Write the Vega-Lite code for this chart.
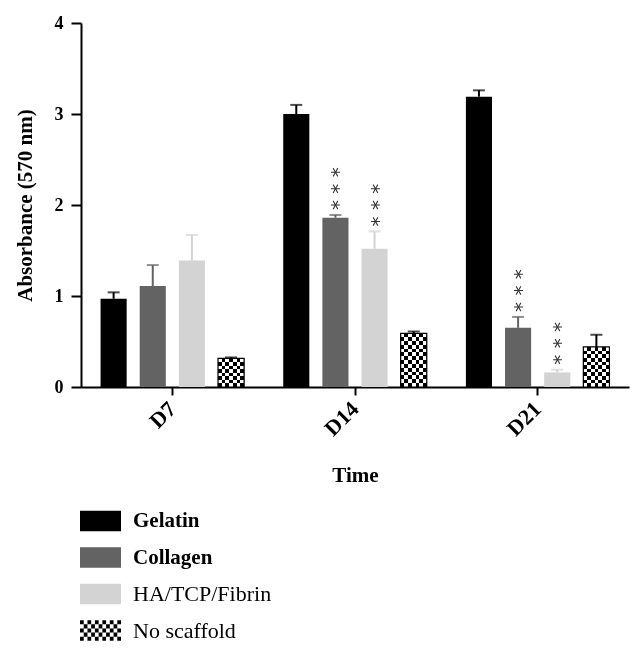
{
  "$schema": "https://vega.github.io/schema/vega-lite/v6.json",
  "width": 548,
  "height": 364,
  "autosize": {"type": "none"},
  "padding": {"left": 81, "top": 23, "right": 15, "bottom": 268},
  "background": "white",
  "data": {
    "values": [
      {"Time": "D7", "Group": "Gelatin", "value": 0.97, "upper": 1.04, "sig": null},
      {"Time": "D7", "Group": "Collagen", "value": 1.11, "upper": 1.34, "sig": null},
      {"Time": "D7", "Group": "HA/TCP/Fibrin", "value": 1.39, "upper": 1.67, "sig": null},
      {"Time": "D7", "Group": "No scaffold", "value": 0.315, "upper": 0.325, "sig": null},
      {"Time": "D14", "Group": "Gelatin", "value": 3.0, "upper": 3.1, "sig": null},
      {"Time": "D14", "Group": "Collagen", "value": 1.86, "upper": 1.89, "sig": "* * *"},
      {"Time": "D14", "Group": "HA/TCP/Fibrin", "value": 1.52, "upper": 1.71, "sig": "* * *"},
      {"Time": "D14", "Group": "No scaffold", "value": 0.59, "upper": 0.61, "sig": null},
      {"Time": "D21", "Group": "Gelatin", "value": 3.19, "upper": 3.26, "sig": null},
      {"Time": "D21", "Group": "Collagen", "value": 0.65, "upper": 0.77, "sig": "* * *"},
      {"Time": "D21", "Group": "HA/TCP/Fibrin", "value": 0.16, "upper": 0.19, "sig": "* * *"},
      {"Time": "D21", "Group": "No scaffold", "value": 0.44, "upper": 0.575, "sig": null}
    ]
  },
  "encoding": {
    "x": {
      "field": "Time",
      "type": "nominal",
      "scale": {"domain": ["D7", "D14", "D21"], "paddingInner": 0, "paddingOuter": 0},
      "title": "Time",
      "axis": {"labelAngle": -45, "labelFontSize": 22, "labelAlign": "right", "labelBaseline": "middle", "tickSize": 8, "labelPadding": 10, "titlePadding": 25}
    },
    "xOffset": {
      "field": "Group",
      "type": "nominal",
      "scale": {"domain": ["Gelatin", "Collagen", "HA/TCP/Fibrin", "No scaffold"], "paddingInner": 0.3333, "paddingOuter": 0.5}
    }
  },
  "layer": [
    {
      "mark": {"type": "bar"},
      "encoding": {
        "y": {
          "field": "value",
          "type": "quantitative",
          "scale": {"domain": [0, 4], "nice": false},
          "title": "Absorbance (570 nm)",
          "axis": {"values": [0, 1, 2, 3, 4], "format": "d", "tickSize": 10, "labelPadding": 8, "titlePadding": 19}
        },
        "color": {
          "field": "Group",
          "type": "nominal",
          "scale": {"domain": ["Gelatin", "Collagen", "HA/TCP/Fibrin", "No scaffold"], "range": ["#000000", "#636363", "#d3d3d3", "#000000"]},
          "legend": {
            "orient": "none",
            "legendX": -1,
            "legendY": 482,
            "title": null,
            "padding": 0,
            "symbolType": "M-1,-0.5H1V0.5H-1Z",
            "symbolSize": 1681,
            "symbolStrokeWidth": 0,
            "symbolOpacity": 1,
            "clipHeight": 32,
            "rowPadding": 4.5,
            "labelFont": "Liberation Serif",
            "labelFontSize": 21,
            "labelColor": "#000000",
            "labelOffset": 12,
            "labelLimit": 300,
            "encode": {
              "labels": {"update": {
                "fontWeight": {"signal": "datum.value === 'Gelatin' || datum.value === 'Collagen' ? 'bold' : 'normal'"},
                "fontSize": {"signal": "datum.value === 'Gelatin' || datum.value === 'Collagen' ? 21 : 22"}
              }},
              "symbols": {"update": {"shape": {"signal": "datum.value === 'No scaffold' ? 'M-1,-0.5h0.1818v0.2h-0.1818zM-0.6364,-0.5h0.1818v0.2h-0.1818zM-0.2727,-0.5h0.1818v0.2h-0.1818zM0.0909,-0.5h0.1818v0.2h-0.1818zM0.4545,-0.5h0.1818v0.2h-0.1818zM0.8182,-0.5h0.1818v0.2h-0.1818zM-0.8182,-0.3h0.1818v0.2h-0.1818zM-0.4545,-0.3h0.1818v0.2h-0.1818zM-0.0909,-0.3h0.1818v0.2h-0.1818zM0.2727,-0.3h0.1818v0.2h-0.1818zM0.6364,-0.3h0.1818v0.2h-0.1818zM-1,-0.1h0.1818v0.2h-0.1818zM-0.6364,-0.1h0.1818v0.2h-0.1818zM-0.2727,-0.1h0.1818v0.2h-0.1818zM0.0909,-0.1h0.1818v0.2h-0.1818zM0.4545,-0.1h0.1818v0.2h-0.1818zM0.8182,-0.1h0.1818v0.2h-0.1818zM-0.8182,0.1h0.1818v0.2h-0.1818zM-0.4545,0.1h0.1818v0.2h-0.1818zM-0.0909,0.1h0.1818v0.2h-0.1818zM0.2727,0.1h0.1818v0.2h-0.1818zM0.6364,0.1h0.1818v0.2h-0.1818zM-1,0.3h0.1818v0.2h-0.1818zM-0.6364,0.3h0.1818v0.2h-0.1818zM-0.2727,0.3h0.1818v0.2h-0.1818zM0.0909,0.3h0.1818v0.2h-0.1818zM0.4545,0.3h0.1818v0.2h-0.1818zM0.8182,0.3h0.1818v0.2h-0.1818z' : 'M-1,-0.5H1V0.5H-1Z'"}}}
            }
          }
        }
      }
    },
    {
      "transform": [{"filter": "datum.Group === 'No scaffold'"}],
      "mark": {
        "type": "bar",
        "fill": {
          "gradient": "linear", "x1": 0, "y1": 0, "x2": 1, "y2": 0,
          "stops": [
            {"offset": 0, "color": "#000000"}, {"offset": 0.1429, "color": "#000000"},
            {"offset": 0.1429, "color": "#ffffff"}, {"offset": 0.2857, "color": "#ffffff"},
            {"offset": 0.2857, "color": "#000000"}, {"offset": 0.4286, "color": "#000000"},
            {"offset": 0.4286, "color": "#ffffff"}, {"offset": 0.5714, "color": "#ffffff"},
            {"offset": 0.5714, "color": "#000000"}, {"offset": 0.7143, "color": "#000000"},
            {"offset": 0.7143, "color": "#ffffff"}, {"offset": 0.8571, "color": "#ffffff"},
            {"offset": 0.8571, "color": "#000000"}, {"offset": 1, "color": "#000000"}
          ]
        }
      },
      "encoding": {"y": {"field": "value", "type": "quantitative"}}
    },
    {
      "transform": [{"filter": "datum.Group === 'No scaffold'"}],
      "mark": {"type": "bar", "blend": "difference"},
      "encoding": {
        "y": {"field": "value", "type": "quantitative"},
        "fill": {
          "condition": [
            {
              "test": "datum.Time === 'D7'",
              "value": {
                "gradient": "linear", "x1": 0, "y1": 0, "x2": 0, "y2": 1,
                "stops": [
                  {"offset": 0, "color": "#ffffff"}, {"offset": 0.125, "color": "#ffffff"},
                  {"offset": 0.125, "color": "#000000"}, {"offset": 0.25, "color": "#000000"},
                  {"offset": 0.25, "color": "#ffffff"}, {"offset": 0.375, "color": "#ffffff"},
                  {"offset": 0.375, "color": "#000000"}, {"offset": 0.5, "color": "#000000"},
                  {"offset": 0.5, "color": "#ffffff"}, {"offset": 0.625, "color": "#ffffff"},
                  {"offset": 0.625, "color": "#000000"}, {"offset": 0.75, "color": "#000000"},
                  {"offset": 0.75, "color": "#ffffff"}, {"offset": 0.875, "color": "#ffffff"},
                  {"offset": 0.875, "color": "#000000"}, {"offset": 1, "color": "#000000"}
                ]
              }
            },
            {
              "test": "datum.Time === 'D14'",
              "value": {
                "gradient": "linear", "x1": 0, "y1": 0, "x2": 0, "y2": 1,
                "stops": [
                  {"offset": 0, "color": "#ffffff"}, {"offset": 0.0714, "color": "#ffffff"},
                  {"offset": 0.0714, "color": "#000000"}, {"offset": 0.1429, "color": "#000000"},
                  {"offset": 0.1429, "color": "#ffffff"}, {"offset": 0.2143, "color": "#ffffff"},
                  {"offset": 0.2143, "color": "#000000"}, {"offset": 0.2857, "color": "#000000"},
                  {"offset": 0.2857, "color": "#ffffff"}, {"offset": 0.3571, "color": "#ffffff"},
                  {"offset": 0.3571, "color": "#000000"}, {"offset": 0.4286, "color": "#000000"},
                  {"offset": 0.4286, "color": "#ffffff"}, {"offset": 0.5, "color": "#ffffff"},
                  {"offset": 0.5, "color": "#000000"}, {"offset": 0.5714, "color": "#000000"},
                  {"offset": 0.5714, "color": "#ffffff"}, {"offset": 0.6429, "color": "#ffffff"},
                  {"offset": 0.6429, "color": "#000000"}, {"offset": 0.7143, "color": "#000000"},
                  {"offset": 0.7143, "color": "#ffffff"}, {"offset": 0.7857, "color": "#ffffff"},
                  {"offset": 0.7857, "color": "#000000"}, {"offset": 0.8571, "color": "#000000"},
                  {"offset": 0.8571, "color": "#ffffff"}, {"offset": 0.9286, "color": "#ffffff"},
                  {"offset": 0.9286, "color": "#000000"}, {"offset": 1, "color": "#000000"}
                ]
              }
            }
          ],
          "value": {
            "gradient": "linear", "x1": 0, "y1": 0, "x2": 0, "y2": 1,
            "stops": [
              {"offset": 0, "color": "#ffffff"}, {"offset": 0.0909, "color": "#ffffff"},
              {"offset": 0.0909, "color": "#000000"}, {"offset": 0.1818, "color": "#000000"},
              {"offset": 0.1818, "color": "#ffffff"}, {"offset": 0.2727, "color": "#ffffff"},
              {"offset": 0.2727, "color": "#000000"}, {"offset": 0.3636, "color": "#000000"},
              {"offset": 0.3636, "color": "#ffffff"}, {"offset": 0.4545, "color": "#ffffff"},
              {"offset": 0.4545, "color": "#000000"}, {"offset": 0.5455, "color": "#000000"},
              {"offset": 0.5455, "color": "#ffffff"}, {"offset": 0.6364, "color": "#ffffff"},
              {"offset": 0.6364, "color": "#000000"}, {"offset": 0.7273, "color": "#000000"},
              {"offset": 0.7273, "color": "#ffffff"}, {"offset": 0.8182, "color": "#ffffff"},
              {"offset": 0.8182, "color": "#000000"}, {"offset": 0.9091, "color": "#000000"},
              {"offset": 0.9091, "color": "#ffffff"}, {"offset": 1, "color": "#ffffff"}
            ]
          }
        }
      }
    },
    {
      "transform": [{"filter": "datum.Group === 'No scaffold'"}],
      "mark": {"type": "bar", "fill": "transparent", "stroke": "#000000", "strokeWidth": 1.2},
      "encoding": {"y": {"field": "value", "type": "quantitative"}}
    },
    {
      "mark": {"type": "rule", "strokeWidth": 2},
      "encoding": {
        "y": {"field": "value", "type": "quantitative"},
        "y2": {"field": "upper"},
        "color": {"field": "Group", "type": "nominal", "legend": null}
      }
    },
    {
      "mark": {"type": "tick", "thickness": 2, "size": 12},
      "encoding": {
        "y": {"field": "upper", "type": "quantitative"},
        "color": {"field": "Group", "type": "nominal", "legend": null}
      }
    },
    {
      "transform": [{"filter": "datum.sig != null"}],
      "mark": {"type": "text", "font": "DejaVu Sans", "fontSize": 20, "angle": 270, "align": "left", "baseline": "middle", "dx": 5, "dy": 4, "color": "#333333"},
      "encoding": {
        "y": {"field": "upper", "type": "quantitative"},
        "text": {"field": "sig"}
      }
    }
  ],
  "config": {
    "view": {"stroke": null},
    "axis": {
      "grid": false,
      "domainColor": "#000000",
      "domainWidth": 2,
      "tickColor": "#000000",
      "tickWidth": 2,
      "labelFont": "Liberation Serif",
      "labelFontWeight": "bold",
      "labelFontSize": 18,
      "labelColor": "#000000",
      "titleFont": "Liberation Serif",
      "titleFontWeight": "bold",
      "titleFontSize": 21,
      "titleColor": "#000000"
    }
  }
}
